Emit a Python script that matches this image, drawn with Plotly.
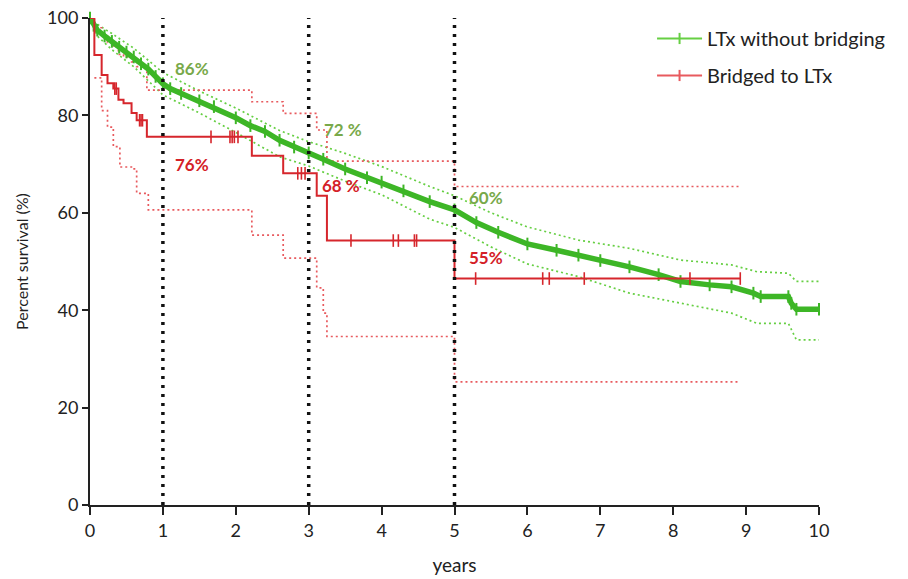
import numpy as np
import plotly.graph_objects as go

# ---------------- data ----------------
# LTx without bridging: Kaplan-Meier estimate and 95% CI
ltx_t = [0, 0.05, 0.1, 0.2, 0.3, 0.4, 0.5, 0.6, 0.7, 0.8, 0.9, 1.0, 1.1, 1.25, 1.5, 1.7,
         2.0, 2.2, 2.4, 2.6, 2.8, 3.0, 3.2, 3.5, 3.8, 4.0, 4.3, 4.66, 5.0, 5.3, 5.6, 6.0,
         6.4, 6.7, 7.0, 7.4, 7.8, 8.1, 8.5, 8.8, 9.1, 9.2, 9.58, 9.62, 9.69, 10.0]
ltx_s = [100, 98.5, 97.5, 96.3, 95.2, 94.0, 93.0, 92.0, 90.6, 89.5, 88.0, 86.5, 85.5, 84.5,
         83.0, 81.8, 79.5, 77.9, 76.7, 74.9, 73.5, 72.3, 71.0, 69.0, 67.2, 66.3, 64.5, 62.3,
         60.6, 58.0, 56.0, 53.6, 52.3, 51.3, 50.2, 48.9, 47.3, 45.9, 45.2, 44.8, 43.5, 42.8,
         42.8, 41.4, 40.2, 40.2]
ltx_ci_t = [0, 0.1, 0.3, 0.6, 1.0, 1.5, 2.0, 2.6, 3.0, 3.5, 4.0, 4.66, 5.0, 5.5, 6.0, 6.7,
            7.4, 8.1, 8.8, 9.15, 9.58, 9.69, 10.0]
ltx_upper = [100, 98.7, 96.8, 93.8, 88.8, 85.0, 81.5, 76.9, 74.6, 72.2, 69.5, 65.4, 63.5,
             60.0, 57.1, 54.4, 52.7, 50.3, 49.3, 47.9, 47.6, 45.9, 45.9]
ltx_lower = [100, 96.3, 93.5, 90.0, 84.2, 80.5, 76.5, 71.5, 69.6, 66.5, 63.7, 58.7, 57.0,
             53.0, 49.5, 46.9, 43.5, 41.4, 39.4, 37.3, 37.3, 33.9, 33.9]

# Bridged to LTx: step function and 95% CI
br_t = [0, 0.06, 0.16, 0.24, 0.32, 0.39, 0.46, 0.57, 0.64, 0.78, 2.22, 2.65, 3.11, 3.25, 5.0, 8.92]
br_s = [100, 92.4, 88.3, 86.6, 85.5, 83.2, 82.5, 80.5, 79.0, 75.6, 71.7, 68.1, 63.5, 54.3, 46.5, 46.5]
br_upper = [100, 98.0, 96.5, 95.0, 94.0, 92.5, 92.0, 91.0, 90.0, 85.2, 82.8, 80.4, 77.0, 70.6, 65.4, 65.4]
br_lo_t = [0.06, 0.16, 0.24, 0.32, 0.41, 0.59, 0.64, 0.80, 2.22, 2.65, 3.11, 3.20, 3.25, 5.0, 8.92]
br_lower = [87.7, 81.0, 77.6, 73.6, 69.4, 69.0, 64.0, 60.6, 55.4, 50.7, 44.6, 39.4, 34.6, 25.3, 25.3]
br_censor = [0.34, 0.36, 0.68, 0.70, 0.72, 1.66, 1.92, 1.95, 1.98, 2.03, 2.85, 2.90, 2.95,
             3.58, 4.16, 4.23, 4.45, 4.48, 5.29, 6.21, 6.30, 6.78, 8.23, 8.92]

milestones = [1, 3, 5]
ltx_labels = ["86%", "72 %", "60%"]
br_labels = ["76%", "68 %", "55%"]

x_ticks = list(range(0, 11))
y_ticks = [0, 20, 40, 60, 80, 100]

# ---------------- styling ----------------
GREEN = "#3db626"
GREEN_CI = "#66cf43"
GREEN_TXT = "#78a94a"
RED = "#d6262c"
RED_CI = "#e85a5e"
RED_TXT = "#d42027"
FONT = "Lato"

fig = go.Figure()

# confidence intervals
fig.add_trace(go.Scatter(x=ltx_ci_t, y=ltx_upper, mode="lines", showlegend=False,
                         line=dict(color=GREEN_CI, width=1.7, dash="2px,3px"), cliponaxis=False))
fig.add_trace(go.Scatter(x=ltx_ci_t, y=ltx_lower, mode="lines", showlegend=False,
                         line=dict(color=GREEN_CI, width=1.7, dash="2px,3px"), cliponaxis=False))
fig.add_trace(go.Scatter(x=br_t, y=br_upper, mode="lines", showlegend=False, line_shape="hv",
                         line=dict(color=RED_CI, width=1.7, dash="2px,3px"), cliponaxis=False))
fig.add_trace(go.Scatter(x=br_lo_t, y=br_lower, mode="lines", showlegend=False, line_shape="hv",
                         line=dict(color=RED_CI, width=1.7, dash="2px,3px"), cliponaxis=False))

# LTx without bridging (thick staircase with censor ticks)
fig.add_trace(go.Scatter(x=ltx_t, y=ltx_s, mode="lines+markers", showlegend=False,
                         line=dict(color=GREEN, width=5.5),
                         marker=dict(symbol="line-ns", size=9, line=dict(color=GREEN, width=2)),
                         cliponaxis=False))

# Bridged to LTx
fig.add_trace(go.Scatter(x=br_t, y=br_s, mode="lines", showlegend=False, line_shape="hv",
                         line=dict(color=RED, width=2), cliponaxis=False))
idx = np.searchsorted(np.array(br_t), np.array(br_censor), side="right") - 1
br_censor_y = [br_s[i] for i in idx]
fig.add_trace(go.Scatter(x=br_censor, y=br_censor_y, mode="markers", showlegend=False,
                         marker=dict(symbol="line-ns", size=9, line=dict(color=RED, width=1.6)),
                         cliponaxis=False))

# legend entries
fig.add_trace(go.Scatter(x=[None], y=[None], mode="lines+markers", name="LTx without bridging",
                         line=dict(color=GREEN_CI, width=2),
                         marker=dict(symbol="line-ns", size=8, line=dict(color=GREEN_CI, width=2)),
                         legendgroup="a"))
fig.add_trace(go.Scatter(x=[None], y=[None], mode="lines+markers", name="Bridged to LTx",
                         line=dict(color=RED_CI, width=2),
                         marker=dict(symbol="line-ns", size=8, line=dict(color=RED_CI, width=2)),
                         legendgroup="b"))

# milestone dotted lines
for m in milestones:
    fig.add_shape(type="line", x0=m, x1=m, y0=0, y1=100, xref="x", yref="y",
                  line=dict(color="#111111", width=3.5, dash="3px,6px"), layer="above")

# percentage labels
ltx_pos = [(1.14, 89.6), (3.18, 77.2), (5.17, 63.2)]
br_pos = [(1.14, 70.0), (3.16, 65.7), (5.17, 50.9)]
for (x, y), txt in zip(ltx_pos, ltx_labels):
    fig.add_annotation(x=x, y=y, text="<b>" + txt + "</b>", showarrow=False, xanchor="left",
                       yanchor="middle", font=dict(family=FONT, size=17, color=GREEN_TXT))
for (x, y), txt in zip(br_pos, br_labels):
    fig.add_annotation(x=x, y=y, text="<b>" + txt + "</b>", showarrow=False, xanchor="left",
                       yanchor="middle", font=dict(family=FONT, size=17, color=RED_TXT))

fig.update_layout(
    width=908, height=579,
    margin=dict(l=90, r=89, t=18, b=74),
    plot_bgcolor="white", paper_bgcolor="white",
    font=dict(family=FONT, size=17, color="#222222"),
    legend=dict(x=0.771, y=0.998, xanchor="left", yanchor="top", bgcolor="rgba(0,0,0,0)",
                font=dict(family=FONT, size=20, color="#222222"), itemwidth=45,
                tracegroupgap=8),
    xaxis=dict(range=[0, 10], tickvals=x_ticks, showline=True, linecolor="#222222",
               linewidth=2, ticks="outside", ticklen=8, tickwidth=2, tickcolor="#222222",
               showgrid=False, zeroline=False, tickfont=dict(size=18), automargin=False,
               title=dict(text="years", font=dict(size=19), standoff=19)),
    yaxis=dict(range=[0, 100], tickvals=y_ticks, showline=True, linecolor="#222222",
               linewidth=2, ticks="outside", ticklen=6, tickwidth=2, tickcolor="#222222",
               showgrid=False, zeroline=False, tickfont=dict(size=18), automargin=False,
               title=dict(text="Percent survival (%)", font=dict(size=16), standoff=14)),
)

fig.write_html("out.html", config={"displayModeBar": False},
               post_script="document.body.style.margin='0';")
